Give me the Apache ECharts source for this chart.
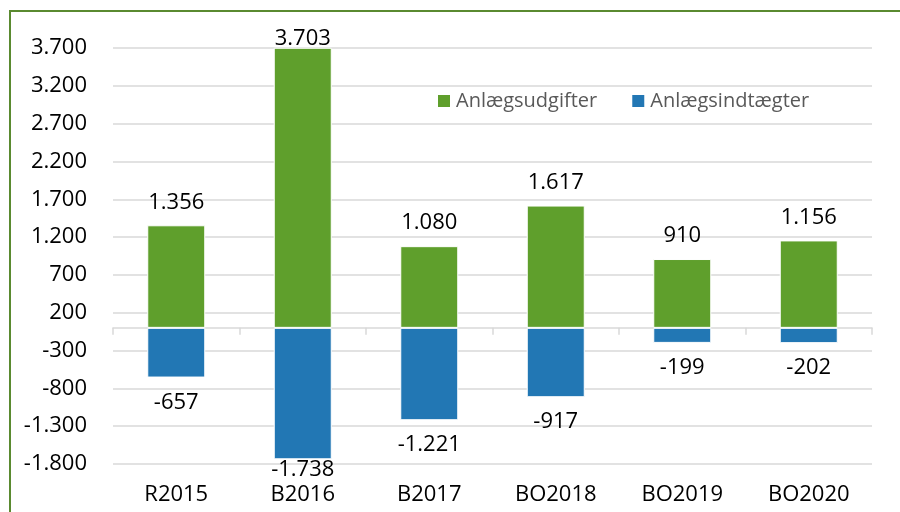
<!DOCTYPE html>
<html>
<head>
<meta charset="utf-8">
<script src="https://cdn.jsdelivr.net/npm/echarts@6/dist/echarts.min.js"></script>
<style>
  html, body { margin: 0; padding: 0; background: #fff; }
  #chart { width: 900px; height: 512px; }
</style>
</head>
<body>
<div id="chart"></div>
<script>
// data
var categories = ['R2015', 'B2016', 'B2017', 'BO2018', 'BO2019', 'BO2020'];
var udgifter = [1356, 3703, 1080, 1617, 910, 1156];
var indtaegter = [-657, -1738, -1221, -917, -199, -202];
var yMin = -1800, yMax = 3700, yStep = 500;

// danish number format: 1.356 / -1.738
function fmt(v) {
  var s = String(Math.abs(Math.round(v))).replace(/\B(?=(\d{3})+(?!\d))/g, '.');
  return (v < 0 ? '-' : '') + s;
}

// keep value labels inside the plot area, like excel does
function clampLabel(p) {
  var r = p.labelRect;
  if (r.y < 28) return { dy: 28 - r.y };
  if (r.y + r.height > 481) return { dy: 481 - (r.y + r.height) };
  return {};
}

var font = 'Open Sans';
var chart = echarts.init(document.getElementById('chart'));

chart.setOption({
  animation: false,
  textStyle: { fontFamily: font },
  grid: { left: 113, right: 28, top: 48, bottom: 48 },
  legend: {
    left: 436,
    top: 91,
    padding: 0,
    itemWidth: 14,
    itemHeight: 14,
    itemGap: 33,
    icon: 'rect',
    textStyle: { fontFamily: font, fontSize: 20, color: '#595959' },
    data: ['Anlægsudgifter', 'Anlægsindtægter']
  },
  xAxis: [
    {
      type: 'category',
      data: categories,
      axisLine: { onZero: true, lineStyle: { color: '#d9d9d9', width: 1.5 } },
      axisTick: { show: true, length: 7, lineStyle: { color: '#d9d9d9', width: 1.5 } },
      axisLabel: { show: false }
    },
    {
      type: 'category',
      data: categories,
      position: 'bottom',
      axisLine: { show: false },
      axisTick: { show: false },
      axisLabel: { margin: 20, fontFamily: font, fontSize: 22, color: '#000' }
    }
  ],
  yAxis: {
    type: 'value',
    min: yMin,
    max: yMax,
    interval: yStep,
    axisLine: { show: false },
    axisTick: { show: false },
    splitLine: { lineStyle: { color: '#d9d9d9', width: 1.5 } },
    axisLabel: {
      margin: 26,
      fontFamily: font,
      fontSize: 22,
      color: '#000',
      formatter: fmt
    }
  },
  series: [
    {
      name: 'Anlægsudgifter',
      type: 'bar',
      stack: 'total',
      barWidth: 58,
      data: udgifter,
      itemStyle: { color: '#5f9f2c', borderColor: '#fff', borderWidth: 1 },
      label: {
        show: true,
        position: 'top',
        distance: 12,
        fontFamily: font,
        fontSize: 22,
        color: '#000',
        formatter: function (p) { return fmt(p.value); }
      },
      labelLayout: clampLabel
    },
    {
      name: 'Anlægsindtægter',
      type: 'bar',
      stack: 'total',
      barWidth: 58,
      data: indtaegter,
      itemStyle: { color: '#2277b4', borderColor: '#fff', borderWidth: 1 },
      label: {
        show: true,
        position: 'bottom',
        distance: 14,
        fontFamily: font,
        fontSize: 22,
        color: '#000',
        formatter: function (p) { return fmt(p.value); }
      },
      labelLayout: clampLabel
    }
  ],
  graphic: [
    {
      type: 'rect',
      silent: true,
      shape: { x: 10, y: 11, width: 900, height: 520 },
      style: { fill: 'none', stroke: '#5a8a30', lineWidth: 2 }
    }
  ]
});
</script>
</body>
</html>
